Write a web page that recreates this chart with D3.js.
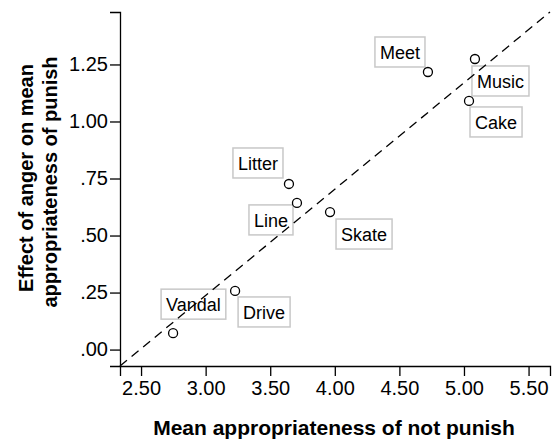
<!DOCTYPE html>
<html>
<head>
<meta charset="utf-8">
<script src="https://cdn.jsdelivr.net/npm/d3@7"></script>
<style>
  body { margin: 0; background: #fff; }
  svg { font-family: "Liberation Sans", Arial, sans-serif; }
</style>
</head>
<body>
<svg id="chart" width="556" height="440"></svg>
<script>
// scenario names and their means
var names = ["Vandal", "Drive", "Litter", "Line", "Skate", "Meet", "Music", "Cake"]
var notPunish = [2.748, 3.228, 3.645, 3.707, 3.963, 4.721, 5.085, 5.039]
var angerEffect = [0.072, 0.257, 0.726, 0.643, 0.603, 1.217, 1.274, 1.090]

var xTicks = [2.5, 3.0, 3.5, 4.0, 4.5, 5.0, 5.5]
var yTicks = [0, 0.25, 0.5, 0.75, 1.0, 1.25]

// where each label box sits relative to its point (pixels)
var labelOffset = {
  Vandal: [-12, -44], Drive: [3, 6], Litter: [-56, -36], Line: [-48, 2],
  Skate: [6, 7], Meet: [-53, -35], Music: [-3, 7], Cake: [1, 6]
}

function draw()
{
  var svg = d3.select("#chart")
  var plotL = 120, plotR = 550, plotT = 12, plotB = 366

  var x = d3.scaleLinear().domain([2.337, 5.666]).range([plotL, plotR])
  var y = d3.scaleLinear().domain([-0.072, 1.48]).range([plotB, plotT])

  var fmtY = function(d) { return d3.format(".2f")(d).replace(/^0/, "") }

  var xAxis = svg.append("g")
    .attr("transform", "translate(0," + plotB + ")")
    .call(d3.axisBottom(x).tickValues(xTicks).tickFormat(d3.format(".2f")).tickSizeOuter(0).tickSize(10).tickPadding(5))
  var yAxis = svg.append("g")
    .attr("transform", "translate(" + plotL + ",0)")
    .call(d3.axisLeft(y).tickValues(yTicks).tickFormat(fmtY).tickSizeOuter(0).tickSize(10).tickPadding(2))

  svg.selectAll(".domain, .tick line").attr("stroke", "#000").attr("stroke-width", 1.3)
  svg.selectAll(".tick text")
    .attr("font-size", 20).attr("fill", "#000")
    .attr("font-family", '"Liberation Sans", Arial, sans-serif')

  // axis titles
  svg.append("text")
    .attr("x", 334).attr("y", 435)
    .attr("text-anchor", "middle")
    .attr("font-size", 21).attr("font-weight", "bold")
    .text("Mean appropriateness of not punish")

  var ytitle = svg.append("text")
    .attr("transform", "rotate(-90)")
    .attr("text-anchor", "middle")
    .attr("font-size", 20).attr("font-weight", "bold")
  ytitle.append("tspan").attr("x", -178).attr("y", 33).text("Effect of anger on mean")
  ytitle.append("tspan").attr("x", -182).attr("y", 57).text("appropriateness of punish")

  // label boxes
  var pts = names.map(function(n, i) { return { name: n, x: notPunish[i], y: angerEffect[i] } })

  var lab = svg.append("g").selectAll("g").data(pts).enter().append("g")
  lab.append("text")
    .attr("font-size", 18)
    .attr("x", function(d) { return x(d.x) + labelOffset[d.name][0] + 5 })
    .attr("y", function(d) { return y(d.y) + labelOffset[d.name][1] + 22 })
    .text(function(d) { return d.name })
  lab.insert("rect", "text")
    .attr("x", function(d) { return x(d.x) + labelOffset[d.name][0] })
    .attr("y", function(d) { return y(d.y) + labelOffset[d.name][1] })
    .attr("width", function(d) { return this.parentNode.querySelector("text").getComputedTextLength() + 10 })
    .attr("height", 30)
    .attr("fill", "none")
    .attr("stroke", "#c8c8c8")
    .attr("stroke-width", 1.5)

  // dashed reference line corner to corner
  svg.append("line")
    .attr("x1", x(x.domain()[0])).attr("y1", y(y.domain()[0]))
    .attr("x2", x(x.domain()[1])).attr("y2", y(y.domain()[1]))
    .attr("stroke", "#000").attr("stroke-width", 1.3)
    .attr("stroke-dasharray", "9,6")

  svg.append("g").selectAll("circle").data(pts).enter().append("circle")
    .attr("cx", function(d) { return x(d.x) })
    .attr("cy", function(d) { return y(d.y) })
    .attr("r", 4.5)
    .attr("fill", "#fff")
    .attr("stroke", "#000")
    .attr("stroke-width", 1.3)
}

draw()
</script>
</body>
</html>
